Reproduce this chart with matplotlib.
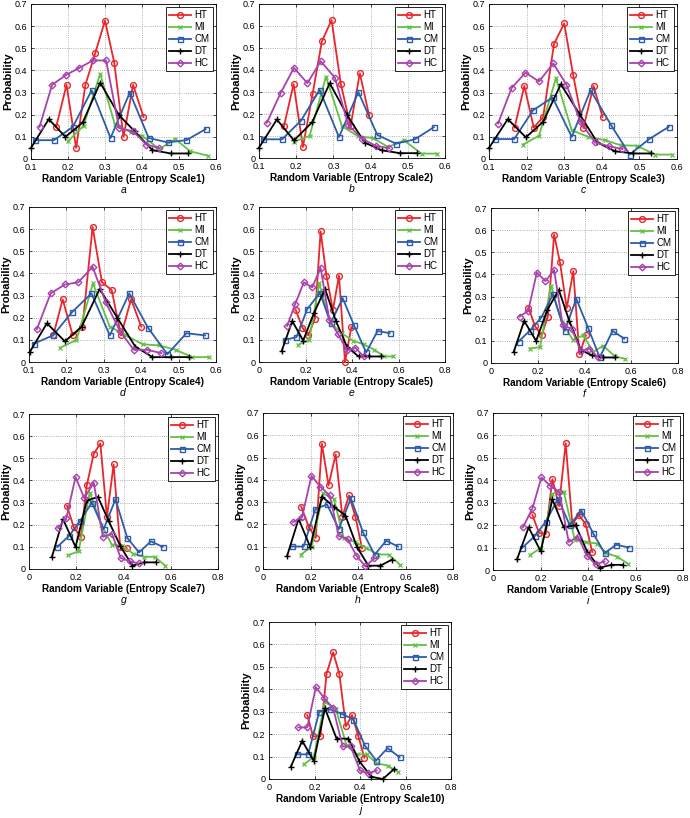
import matplotlib
matplotlib.use("Agg")
import matplotlib.pyplot as plt
import numpy as np

plt.rcParams['font.family'] = ['Liberation Sans', 'DejaVu Sans']

SERIES = ['HT', 'MI', 'CM', 'DT', 'HC']
PANELS = ['a', 'b', 'c', 'd', 'e', 'f', 'g', 'h', 'i', 'j']
X_LABELS = ['Random Variable (Entropy Scale%d)' % k for k in range(1, 11)]

# ---------------- data ----------------
# panel a
a_HT_x = [0.168, 0.196, 0.222, 0.247, 0.274, 0.300, 0.325, 0.350, 0.376, 0.404]
a_HT_y = [0.145, 0.335, 0.050, 0.335, 0.480, 0.625, 0.435, 0.100, 0.335, 0.190]
a_MI_x = [0.200, 0.242, 0.287, 0.326, 0.370, 0.400, 0.447, 0.490, 0.530, 0.578]
a_MI_y = [0.080, 0.150, 0.385, 0.160, 0.120, 0.105, 0.045, 0.090, 0.035, 0.015]
a_CM_x = [0.110, 0.162, 0.213, 0.264, 0.315, 0.367, 0.418, 0.469, 0.520, 0.572]
a_CM_y = [0.085, 0.085, 0.145, 0.310, 0.095, 0.300, 0.095, 0.075, 0.085, 0.135]
a_DT_x = [0.100, 0.148, 0.193, 0.240, 0.287, 0.337, 0.380, 0.428, 0.478, 0.525]
a_DT_y = [0.050, 0.180, 0.100, 0.165, 0.345, 0.200, 0.125, 0.040, 0.025, 0.025]
a_HC_x = [0.123, 0.157, 0.195, 0.229, 0.267, 0.303, 0.338, 0.376, 0.412, 0.446]
a_HC_y = [0.145, 0.335, 0.380, 0.410, 0.445, 0.445, 0.140, 0.125, 0.065, 0.050]
# panel b
b_HT_x = [0.167, 0.193, 0.218, 0.244, 0.269, 0.295, 0.320, 0.346, 0.371, 0.396]
b_HT_y = [0.144, 0.336, 0.050, 0.290, 0.530, 0.627, 0.336, 0.144, 0.385, 0.194]
b_MI_x = [0.194, 0.236, 0.280, 0.323, 0.365, 0.407, 0.447, 0.490, 0.537, 0.578]
b_MI_y = [0.075, 0.100, 0.370, 0.145, 0.100, 0.090, 0.050, 0.080, 0.020, 0.020]
b_CM_x = [0.110, 0.162, 0.213, 0.263, 0.315, 0.367, 0.418, 0.468, 0.519, 0.570]
b_CM_y = [0.085, 0.085, 0.170, 0.310, 0.095, 0.300, 0.105, 0.065, 0.085, 0.140]
b_DT_x = [0.100, 0.148, 0.194, 0.243, 0.290, 0.337, 0.384, 0.430, 0.479, 0.525]
b_DT_y = [0.047, 0.175, 0.080, 0.163, 0.340, 0.195, 0.070, 0.035, 0.022, 0.022]
b_HC_x = [0.121, 0.158, 0.194, 0.230, 0.266, 0.304, 0.340, 0.377, 0.414, 0.450]
b_HC_y = [0.160, 0.295, 0.410, 0.340, 0.440, 0.365, 0.150, 0.088, 0.055, 0.045]
# panel c
c_HT_x = [0.168, 0.194, 0.219, 0.244, 0.273, 0.300, 0.324, 0.351, 0.378, 0.402]
c_HT_y = [0.142, 0.330, 0.142, 0.190, 0.520, 0.612, 0.378, 0.140, 0.330, 0.190]
c_MI_x = [0.190, 0.233, 0.278, 0.320, 0.364, 0.409, 0.450, 0.493, 0.542, 0.587]
c_MI_y = [0.065, 0.105, 0.365, 0.130, 0.100, 0.085, 0.062, 0.060, 0.020, 0.020]
c_CM_x = [0.115, 0.167, 0.217, 0.269, 0.320, 0.370, 0.424, 0.474, 0.526, 0.578]
c_CM_y = [0.090, 0.090, 0.220, 0.278, 0.100, 0.310, 0.155, 0.020, 0.090, 0.145]
c_DT_x = [0.100, 0.150, 0.198, 0.244, 0.291, 0.340, 0.388, 0.435, 0.484, 0.530]
c_DT_y = [0.050, 0.180, 0.098, 0.168, 0.338, 0.205, 0.075, 0.035, 0.025, 0.025]
c_HC_x = [0.124, 0.160, 0.197, 0.233, 0.271, 0.306, 0.344, 0.382, 0.418, 0.455]
c_HC_y = [0.160, 0.320, 0.390, 0.350, 0.432, 0.335, 0.165, 0.075, 0.058, 0.045]
# panel d
d_HT_x = [0.165, 0.190, 0.217, 0.243, 0.270, 0.295, 0.321, 0.346, 0.373, 0.400]
d_HT_y = [0.120, 0.283, 0.120, 0.160, 0.610, 0.360, 0.325, 0.120, 0.283, 0.160]
d_MI_x = [0.184, 0.227, 0.271, 0.316, 0.359, 0.404, 0.448, 0.492, 0.537, 0.580]
d_MI_y = [0.065, 0.100, 0.355, 0.160, 0.120, 0.080, 0.075, 0.055, 0.022, 0.022]
d_CM_x = [0.113, 0.164, 0.215, 0.267, 0.316, 0.368, 0.418, 0.470, 0.521, 0.571]
d_CM_y = [0.083, 0.120, 0.225, 0.310, 0.120, 0.310, 0.155, 0.035, 0.130, 0.120]
d_DT_x = [0.102, 0.148, 0.196, 0.241, 0.289, 0.336, 0.384, 0.430, 0.479, 0.528]
d_DT_y = [0.045, 0.175, 0.093, 0.160, 0.330, 0.200, 0.070, 0.022, 0.022, 0.022]
d_HC_x = [0.121, 0.158, 0.196, 0.232, 0.270, 0.305, 0.343, 0.380, 0.416, 0.454]
d_HC_y = [0.148, 0.310, 0.350, 0.360, 0.430, 0.270, 0.140, 0.055, 0.055, 0.040]
# panel e
e_HT_x = [0.158, 0.187, 0.212, 0.240, 0.265, 0.290, 0.318, 0.344, 0.370, 0.397]
e_HT_y = [0.235, 0.155, 0.120, 0.195, 0.590, 0.390, 0.235, 0.390, 0.000, 0.157]
e_MI_x = [0.169, 0.216, 0.259, 0.308, 0.356, 0.406, 0.450, 0.496, 0.539, 0.578]
e_MI_y = [0.078, 0.100, 0.355, 0.175, 0.130, 0.095, 0.080, 0.055, 0.025, 0.025]
e_CM_x = [0.111, 0.161, 0.207, 0.262, 0.308, 0.360, 0.409, 0.461, 0.510, 0.562]
e_CM_y = [0.100, 0.112, 0.238, 0.313, 0.175, 0.288, 0.165, 0.043, 0.140, 0.130]
e_DT_x = [0.097, 0.143, 0.190, 0.236, 0.284, 0.331, 0.378, 0.428, 0.475, 0.525]
e_DT_y = [0.048, 0.185, 0.097, 0.220, 0.330, 0.185, 0.070, 0.025, 0.025, 0.025]
e_HC_x = [0.121, 0.156, 0.193, 0.229, 0.265, 0.303, 0.341, 0.378, 0.414, 0.450]
e_HC_y = [0.163, 0.263, 0.360, 0.337, 0.425, 0.188, 0.125, 0.052, 0.065, 0.025]
# panel f
f_HT_x = [0.160, 0.189, 0.217, 0.243, 0.270, 0.295, 0.324, 0.352, 0.378, 0.406]
f_HT_y = [0.250, 0.165, 0.125, 0.210, 0.580, 0.455, 0.248, 0.415, 0.040, 0.125]
f_MI_x = [0.165, 0.210, 0.256, 0.303, 0.350, 0.395, 0.437, 0.480, 0.530, 0.575]
f_MI_y = [0.065, 0.072, 0.350, 0.185, 0.105, 0.125, 0.050, 0.078, 0.030, 0.018]
f_CM_x = [0.118, 0.165, 0.215, 0.265, 0.315, 0.365, 0.415, 0.465, 0.520, 0.570]
f_CM_y = [0.097, 0.145, 0.205, 0.310, 0.145, 0.290, 0.160, 0.025, 0.145, 0.110]
f_DT_x = [0.097, 0.142, 0.193, 0.241, 0.290, 0.335, 0.384, 0.430, 0.480, 0.530]
f_DT_y = [0.050, 0.190, 0.100, 0.240, 0.330, 0.190, 0.060, 0.035, 0.025, 0.025]
f_HC_x = [0.122, 0.159, 0.196, 0.233, 0.270, 0.307, 0.345, 0.384, 0.420, 0.459]
f_HC_y = [0.210, 0.235, 0.408, 0.370, 0.420, 0.170, 0.155, 0.055, 0.065, 0.025]
# panel g
g_HT_x = [0.161, 0.189, 0.219, 0.245, 0.274, 0.302, 0.330, 0.358, 0.386, 0.413]
g_HT_y = [0.285, 0.190, 0.145, 0.380, 0.520, 0.567, 0.235, 0.472, 0.100, 0.095]
g_MI_x = [0.165, 0.210, 0.257, 0.306, 0.351, 0.395, 0.440, 0.485, 0.532, 0.577]
g_MI_y = [0.062, 0.080, 0.345, 0.200, 0.110, 0.105, 0.070, 0.055, 0.055, 0.015]
g_CM_x = [0.120, 0.170, 0.215, 0.266, 0.316, 0.366, 0.416, 0.466, 0.516, 0.566]
g_CM_y = [0.100, 0.150, 0.215, 0.300, 0.180, 0.315, 0.140, 0.075, 0.125, 0.100]
g_DT_x = [0.097, 0.144, 0.197, 0.245, 0.292, 0.338, 0.386, 0.437, 0.487, 0.536]
g_DT_y = [0.055, 0.225, 0.100, 0.310, 0.325, 0.215, 0.105, 0.015, 0.030, 0.030]
g_HC_x = [0.123, 0.158, 0.197, 0.234, 0.274, 0.313, 0.351, 0.388, 0.426, 0.464]
g_HC_y = [0.185, 0.230, 0.415, 0.320, 0.390, 0.145, 0.160, 0.050, 0.035, 0.025]
# panel h
h_HT_x = [0.161, 0.192, 0.222, 0.248, 0.276, 0.306, 0.334, 0.362, 0.389, 0.417]
h_HT_y = [0.280, 0.190, 0.140, 0.562, 0.375, 0.515, 0.235, 0.330, 0.235, 0.093]
h_MI_x = [0.160, 0.205, 0.253, 0.298, 0.340, 0.389, 0.435, 0.484, 0.529, 0.578]
h_MI_y = [0.065, 0.100, 0.340, 0.315, 0.140, 0.120, 0.095, 0.065, 0.065, 0.018]
h_CM_x = [0.122, 0.171, 0.220, 0.270, 0.319, 0.370, 0.421, 0.470, 0.519, 0.568]
h_CM_y = [0.101, 0.101, 0.268, 0.290, 0.179, 0.317, 0.165, 0.064, 0.127, 0.101]
h_DT_x = [0.101, 0.150, 0.199, 0.248, 0.298, 0.347, 0.396, 0.444, 0.494, 0.543]
h_DT_y = [0.057, 0.225, 0.098, 0.325, 0.280, 0.240, 0.098, 0.015, 0.015, 0.042]
h_HC_x = [0.126, 0.164, 0.204, 0.241, 0.281, 0.319, 0.356, 0.393, 0.431, 0.469]
h_HC_y = [0.210, 0.232, 0.418, 0.370, 0.330, 0.148, 0.135, 0.060, 0.012, 0.048]
# panel i
i_HT_x = [0.166, 0.194, 0.222, 0.250, 0.278, 0.306, 0.334, 0.362, 0.390, 0.418]
i_HT_y = [0.245, 0.165, 0.160, 0.405, 0.285, 0.565, 0.205, 0.245, 0.205, 0.080]
i_MI_x = [0.157, 0.204, 0.250, 0.298, 0.344, 0.390, 0.438, 0.477, 0.522, 0.568]
i_MI_y = [0.068, 0.100, 0.340, 0.350, 0.135, 0.125, 0.118, 0.075, 0.060, 0.028]
i_CM_x = [0.124, 0.175, 0.222, 0.274, 0.323, 0.372, 0.421, 0.470, 0.519, 0.571]
i_CM_y = [0.100, 0.150, 0.215, 0.318, 0.200, 0.265, 0.165, 0.075, 0.113, 0.100]
i_DT_x = [0.101, 0.150, 0.201, 0.250, 0.298, 0.348, 0.397, 0.449, 0.498, 0.547]
i_DT_y = [0.047, 0.190, 0.083, 0.315, 0.190, 0.200, 0.080, 0.010, 0.023, 0.023]
i_HC_x = [0.126, 0.166, 0.204, 0.241, 0.278, 0.319, 0.358, 0.396, 0.432, 0.470]
i_HC_y = [0.190, 0.275, 0.413, 0.375, 0.350, 0.125, 0.148, 0.063, 0.025, 0.038]
# panel j
j_HT_x = [0.168, 0.194, 0.226, 0.253, 0.282, 0.309, 0.338, 0.365, 0.393, 0.419]
j_HT_y = [0.285, 0.190, 0.190, 0.470, 0.565, 0.470, 0.235, 0.285, 0.190, 0.095]
j_MI_x = [0.153, 0.197, 0.246, 0.294, 0.341, 0.385, 0.429, 0.474, 0.521, 0.569]
j_MI_y = [0.065, 0.098, 0.345, 0.310, 0.150, 0.110, 0.110, 0.070, 0.060, 0.030]
j_CM_x = [0.121, 0.172, 0.221, 0.268, 0.321, 0.371, 0.421, 0.471, 0.521, 0.574]
j_CM_y = [0.110, 0.110, 0.300, 0.310, 0.290, 0.265, 0.150, 0.082, 0.138, 0.097]
j_DT_x = [0.096, 0.146, 0.197, 0.246, 0.297, 0.349, 0.397, 0.449, 0.500, 0.551]
j_DT_y = [0.055, 0.170, 0.080, 0.315, 0.180, 0.180, 0.080, 0.010, 0.000, 0.045]
j_HC_x = [0.128, 0.168, 0.206, 0.243, 0.282, 0.324, 0.359, 0.400, 0.437, 0.474]
j_HC_y = [0.230, 0.230, 0.410, 0.360, 0.315, 0.145, 0.145, 0.038, 0.025, 0.038]

# x-axis ranges / ticks per panel
XLIM_NARROW = (0.1, 0.6)
XTICKS_NARROW = [0.1, 0.2, 0.3, 0.4, 0.5, 0.6]
XTICKLABELS_NARROW = ['0.1', '0.2', '0.3', '0.4', '0.5', '0.6']
XLIM_WIDE = (0.0, 0.8)
XTICKS_WIDE = [0, 0.2, 0.4, 0.6, 0.8]
XTICKLABELS_WIDE = ['0', '0.2', '0.4', '0.6', '0.8']
YTICKS = [0, 0.1, 0.2, 0.3, 0.4, 0.5, 0.6, 0.7]
YTICKLABELS = ['0', '0.1', '0.2', '0.3', '0.4', '0.5', '0.6', '0.7']

# ---------------- styles ----------------
STYLE = {
    'HT': dict(color='#e8262b', marker='o', ms=4.2, mew=1.0),
    'MI': dict(color='#62c143', marker='x', ms=3.0, mew=0.9),
    'CM': dict(color='#2d5ca8', marker='s', ms=3.6, mew=1.0),
    'DT': dict(color='#000000', marker='+', ms=4.5, mew=1.0),
    'HC': dict(color='#a842ad', marker='D', ms=3.4, mew=1.0),
}

# axes boxes in pixels: left, right, top, bottom
BOXES = {
    'a': (31, 216, 4, 159), 'b': (259, 445, 4, 158), 'c': (489, 677, 4, 159),
    'd': (29, 216, 207, 362), 'e': (259, 445, 207, 362), 'f': (491, 678, 208, 363),
    'g': (29, 218, 414, 569), 'h': (263, 453, 413, 569), 'i': (493, 683, 413, 570),
    'j': (269, 451, 622, 779),
}

W, H = 690, 818
fig = plt.figure(figsize=(W / 100, H / 100), dpi=100)

g = globals()
for k, p in enumerate(PANELS):
    L, R, T, B = BOXES[p]
    ax = fig.add_axes([L / W, 1 - B / H, (R - L) / W, (B - T) / H])
    for s in SERIES:
        xs = g['%s_%s_x' % (p, s)]
        ys = g['%s_%s_y' % (p, s)]
        st = STYLE[s]
        ax.plot(xs, ys, color=st['color'], marker=st['marker'], ms=st['ms'],
                mfc='none', mec=st['color'], mew=st['mew'], lw=1.3, label=s,
                clip_on=False, zorder=3)
    if p in ('a', 'b', 'c', 'd'):
        ax.set_xlim(*XLIM_NARROW)
        ax.set_xticks(XTICKS_NARROW)
        ax.set_xticklabels(XTICKLABELS_NARROW)
    else:
        ax.set_xlim(*XLIM_WIDE)
        ax.set_xticks(XTICKS_WIDE)
        ax.set_xticklabels(XTICKLABELS_WIDE)
    ax.set_ylim(0, 0.7)
    ax.set_yticks(YTICKS)
    ax.set_yticklabels(YTICKLABELS)
    ax.grid(True, linestyle=':', color='#9a9a9a', lw=0.6)
    ax.set_axisbelow(True)
    ax.tick_params(direction='in', length=2.5, width=0.5, labelsize=6.5,
                   top=True, right=True)
    ax.tick_params(axis='x', pad=3)
    ax.tick_params(axis='y', pad=2.5)
    for sp in ax.spines.values():
        sp.set_linewidth(0.6)
    ax.set_xlabel(X_LABELS[k], fontsize=7.2, fontweight='bold', labelpad=1.5)
    ax.set_ylabel('Probability', fontsize=8, fontweight='bold', labelpad=1)
    # panel letter, a fixed number of pixels under the axes
    fig.text((L + R) / 2 / W, 1 - (B + 31) / H, p, ha='center', va='center',
             fontsize=7.5, style='italic')
    leg = ax.legend(loc='upper right', fontsize=7, handlelength=2.2,
                    labelspacing=0.2, borderpad=0.3, handletextpad=0.4,
                    borderaxespad=0.35, fancybox=False, framealpha=1,
                    edgecolor='black')
    leg.get_frame().set_linewidth(0.6)
    leg.set_zorder(5)

fig.savefig('out.png', dpi=100)
